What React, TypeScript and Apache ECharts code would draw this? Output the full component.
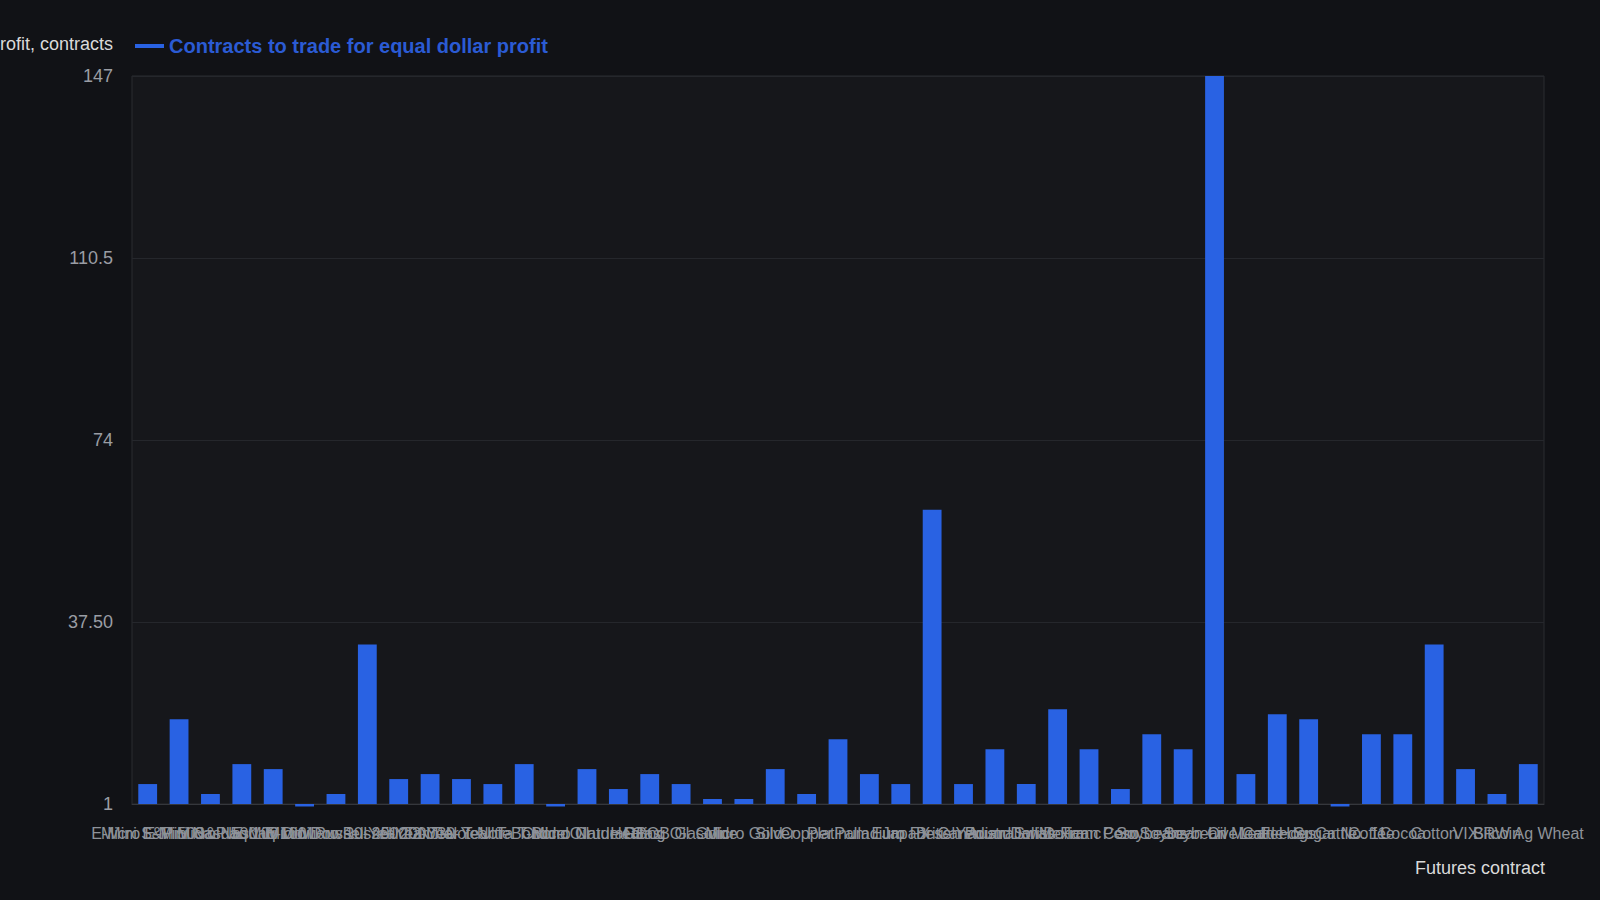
import { useRef, useEffect } from 'react';
import * as echarts from 'echarts';

const contracts = [
  'E-Mini S&P 500', 'Micro E-Mini S&P 500', 'E-Mini Nasdaq 100', 'Micro Nasdaq 100', 'E-Mini Dow',
  'Micro Dow', 'E-Mini Russell 2000', 'Micro Russell 2000', '10-Year T-Note', '5-Year T-Note',
  '2-Year T-Note', '30-Year T-Bond', 'Ultra T-Bond', 'Crude Oil', 'Micro Crude Oil',
  'Natural Gas', 'Heating Oil', 'RBOB Gasoline', 'Gold', 'Micro Gold',
  'Silver', 'Copper', 'Platinum', 'Palladium', 'Euro FX',
  'Japanese Yen', 'British Pound', 'Canadian Dollar', 'Australian Dollar', 'Swiss Franc',
  'Mexican Peso', 'Corn', 'Soybeans', 'Soybean Oil', 'Soybean Meal',
  'Live Cattle', 'Lean Hogs', 'Feeder Cattle', 'Sugar No. 11', 'Coffee',
  'Cocoa', 'Cotton', 'VIX', 'Bitcoin', 'SRW Ag Wheat',
];

const contractsToTrade = [
  5, 18, 3, 9, 8, 0.5, 3, 33, 6, 7,
  6, 5, 9, 0.5, 8, 4, 7, 5, 2, 2,
  8, 3, 14, 7, 5, 60, 5, 12, 5, 20,
  12, 4, 15, 12, 147, 7, 19, 18, 0.5, 15,
  15, 33, 8, 3, 9,
];

const yTickValues = [1, 37.5, 74, 110.5, 147];
const yTickLabels = ['1', '37.50', '74', '110.5', '147'];

const seriesName = 'Contracts to trade for equal dollar profit';
const font = '"Liberation Sans", Arial, sans-serif';

export default function App() {
  const containerRef = useRef<HTMLDivElement>(null);

  useEffect(() => {
    if (!containerRef.current) return;
    document.body.style.margin = '0';
    const chart = echarts.init(containerRef.current, undefined, { renderer: 'svg' });

    chart.setOption({
      animation: false,
      backgroundColor: '#111216',
      textStyle: { fontFamily: font },
      legend: {
        data: [seriesName],
        left: 130,
        top: 31,
        icon: 'rect',
        itemWidth: 29,
        itemHeight: 4,
        textStyle: {
          color: '#2b5bd4',
          fontSize: 20,
          fontWeight: 'bold',
          fontFamily: font,
        },
      },
      grid: {
        left: 132,
        right: 56,
        top: 76,
        bottom: 96,
        containLabel: false,
        outerBoundsMode: 'none',
        show: true,
        backgroundColor: '#16171b',
        borderColor: '#2a2c31',
        borderWidth: 1,
      },
      xAxis: {
        type: 'category',
        data: contracts,
        name: 'Futures contract',
        nameLocation: 'end',
        nameGap: 1,
        nameTextStyle: {
          color: '#dadada',
          fontSize: 18,
          align: 'right',
          verticalAlign: 'top',
          padding: [55, 0, 0, 0],
        },
        axisLine: { lineStyle: { color: '#35373c' } },
        axisTick: { show: false },
        axisLabel: { interval: 0, color: '#8e9299', fontSize: 16, margin: 21 },
      },
      yAxis: {
        type: 'value',
        min: 1,
        max: 147,
        interval: 36.5,
        startValue: 1,
        name: seriesName + ', contracts',
        nameLocation: 'end',
        nameGap: 32,
        nameTextStyle: {
          color: '#dadada',
          fontSize: 18,
          align: 'right',
          verticalAlign: 'middle',
          padding: [0, 19, 0, 0],
        },
        axisLine: { show: false },
        axisTick: { show: false },
        axisLabel: {
          color: '#9a9da4',
          fontSize: 18,
          margin: 19,
          formatter: (v: number) => {
            const i = yTickValues.findIndex((t) => Math.abs(t - v) < 1e-6);
            return i >= 0 ? yTickLabels[i] : String(v);
          },
        },
        splitLine: { lineStyle: { color: '#25272c' } },
      },
      series: [
        {
          name: seriesName,
          type: 'bar',
          data: contractsToTrade,
          barWidth: '60%',
          clip: false,
          itemStyle: { color: '#2962e3' },
        },
      ],
    });

    return () => {
      chart.dispose();
    };
  }, []);

  return <div ref={containerRef} style={{ width: 1600, height: 900 }} />;
}
